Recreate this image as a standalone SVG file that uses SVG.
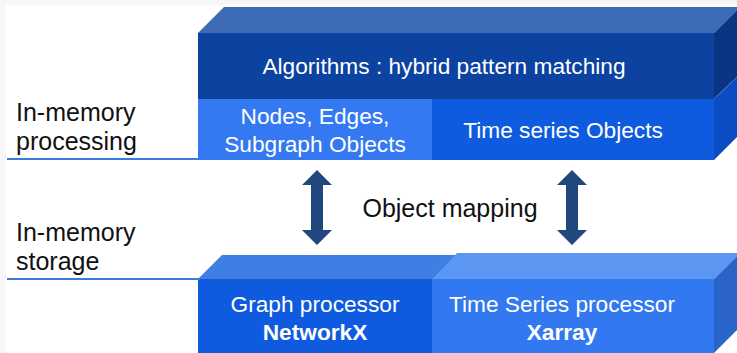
<svg xmlns="http://www.w3.org/2000/svg" width="737" height="353" viewBox="0 0 737 353">
<style>
.w{font-family:"Liberation Sans",Arial,sans-serif;font-size:22.7px;fill:#ffffff;text-anchor:middle}
.b{font-weight:bold}
.k{font-family:"Liberation Sans",Arial,sans-serif;font-size:25px;fill:#111111}
.m{font-family:"Liberation Sans",Arial,sans-serif;font-size:25px;fill:#111111;text-anchor:middle}
.sep{stroke:#3a7be0;stroke-width:2;fill:none}
.arr{fill:#21487e}
</style>
<defs>
<path id="dblarrow" d="M0,-37.5 L15,-22.5 L6,-22.5 L6,22.5 L15,22.5 L0,37.5 L-15,22.5 L-6,22.5 L-6,-22.5 L-15,-22.5 Z"/>
</defs>
<rect x="0" y="0" width="737" height="353" fill="#f7f7f7"/>
<rect x="6" y="5" width="731" height="348" fill="#ffffff"/>

<g id="labels">
<text class="k" x="16" y="121">In-memory</text>
<text class="k" x="16" y="150">processing</text>
<text class="k" x="16" y="241">In-memory</text>
<text class="k" x="16" y="270">storage</text>
</g>

<g id="algorithms">
<polygon points="198,33 224,7 740,7 714,33" fill="#3d6bb5"/>
<polygon points="714,33 737,10 737,77 714,99" fill="#0a3582"/>
<rect x="198" y="33" width="516" height="66" fill="#0c42a0"/>
<text class="w" x="444" y="74">Algorithms : hybrid pattern matching</text>
</g>

<g id="graph-objects">
<rect x="198" y="99" width="234" height="61" fill="#3479f2"/>
<text class="w" x="315" y="124">Nodes, Edges,</text>
<text class="w" x="315" y="152">Subgraph Objects</text>
</g>

<g id="timeseries-objects">
<polygon points="714,99 737,77 737,137 714,160" fill="#0b4cc2"/>
<line x1="714" y1="99" x2="737" y2="77" stroke="#3a78e0" stroke-width="1"/>
<rect x="432" y="99" width="282" height="61" fill="#0f5be0"/>
<text class="w" x="563" y="138">Time series Objects</text>
</g>

<g id="graph-processor">
<polygon points="198,279 222,255 457,255 433,279" fill="#3f7fe3"/>
<rect x="198" y="279" width="234" height="74" fill="#0f5be0"/>
<text class="w" x="315" y="312">Graph processor</text>
<text class="w b" x="315" y="340">NetworkX</text>
</g>

<g id="timeseries-processor">
<polygon points="433,279 457,253 740,253 714,279" fill="#5b97f2"/>
<polygon points="714,279 737,256 737,330 714,353" fill="#2a64c8"/>
<rect x="432" y="279" width="282" height="74" fill="#3278f0"/>
<text class="w" x="562" y="312">Time Series processor</text>
<text class="w b" x="562" y="340">Xarray</text>
</g>

<g id="connectors">
<line class="sep" x1="7" y1="159" x2="198" y2="159"/>
<line class="sep" x1="7" y1="279" x2="200" y2="279"/>
<use href="#dblarrow" class="arr" x="317" y="207.5"/>
<use href="#dblarrow" class="arr" x="572" y="207.5"/>
<text class="m" x="450" y="217">Object mapping</text>
</g>
</svg>
